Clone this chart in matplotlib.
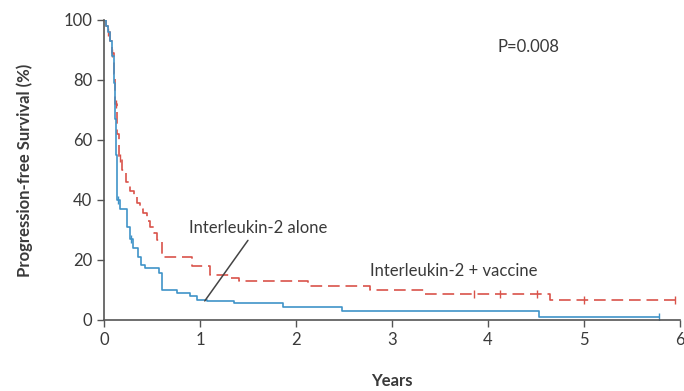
import numpy as np
import matplotlib
matplotlib.use('Agg')
import matplotlib.pyplot as plt

# Kaplan-Meier step data (years, % progression-free)
vac_t = [0, 0.02, 0.04, 0.06, 0.08, 0.10, 0.12, 0.14, 0.16, 0.19, 0.23, 0.27, 0.31, 0.34,
         0.38, 0.41, 0.45, 0.48, 0.52, 0.55, 0.60, 0.92, 1.10, 1.30, 1.41, 2.13, 2.77, 3.33, 4.65]
vac_s = [100, 98, 96, 93, 89, 82, 72, 62, 54, 50, 46, 43, 41, 39,
         37, 35.5, 33, 31, 29, 26.5, 21, 17.8, 15, 13.9, 12.8, 11.2, 10.0, 8.5, 6.7]
vac_end = 6.0
vac_cens = [0.04, 0.08, 0.13, 0.17, 3.85, 4.13, 4.51, 5.0, 5.95]

il2_t = [0, 0.02, 0.04, 0.06, 0.08, 0.10, 0.12, 0.13, 0.14, 0.17, 0.24, 0.27, 0.30, 0.35,
         0.39, 0.43, 0.57, 0.60, 0.76, 0.90, 0.97, 1.07, 1.35, 1.87, 2.48, 4.53]
il2_s = [100, 98, 96, 93, 88, 79, 67, 55, 40, 37, 31, 27, 24, 21,
         18.3, 17.2, 15.5, 10, 8.9, 7.8, 6.7, 6.3, 5.6, 4.4, 2.8, 1.1]
il2_end = 5.78
il2_cens = [0.15, 0.28, 5.78]

red = '#d9534a'
blue = '#3f93c8'
txt = '#3a3a3a'

plt.rcParams['font.family'] = ['Lato', 'DejaVu Sans']

fig = plt.figure(figsize=(6.84, 3.91), dpi=100)
ax = fig.add_axes([0.152, 0.182, 0.842, 0.767])


def km(ax, t, s, end, cens, color, ls):
    tt = list(t) + [end]
    ss = list(s) + [s[-1]]
    ax.step(tt, ss, where='post', color=color, lw=1.2, ls=ls)
    idx = np.searchsorted(t, cens, side='right') - 1
    ax.plot(cens, np.array(s)[idx], ls='none', marker='|', ms=6, mew=1.0, color=color)


km(ax, vac_t, vac_s, vac_end, vac_cens, red, (0, (7, 3.5)))
km(ax, il2_t, il2_s, il2_end, il2_cens, blue, '-')

ax.set_xlim(0, 6)
ax.set_ylim(0, 100)
ax.set_xticks(range(7))
ax.set_yticks(range(0, 101, 20))
ax.spines['top'].set_visible(False)
ax.spines['right'].set_visible(False)
for sp in ['left', 'bottom']:
    ax.spines[sp].set_color('#555555')
    ax.spines[sp].set_linewidth(1.2)
ax.tick_params(direction='out', length=5, width=1, color='#555555', labelsize=12,
               labelcolor=txt)
ax.set_xlabel('Years', fontsize=12, fontweight='bold', color=txt, labelpad=18)
ax.set_ylabel('Progression-free Survival (%)', fontsize=12, fontweight='bold',
              color=txt, labelpad=22)

ax.text(4.1, 91, 'P=0.008', fontsize=12, color=txt, va='center')
ax.text(0.89, 30.7, 'Interleukin-2 alone', fontsize=12, color=txt, va='center')
ax.annotate('', xy=(1.05, 6.3), xytext=(1.5, 26.5),
            arrowprops=dict(arrowstyle='-', color='#444444', lw=1.1,
                            shrinkA=0, shrinkB=0))
ax.text(2.77, 16.3, 'Interleukin-2 + vaccine', fontsize=12, color=txt, va='center')

fig.savefig('out.png', dpi=100)
